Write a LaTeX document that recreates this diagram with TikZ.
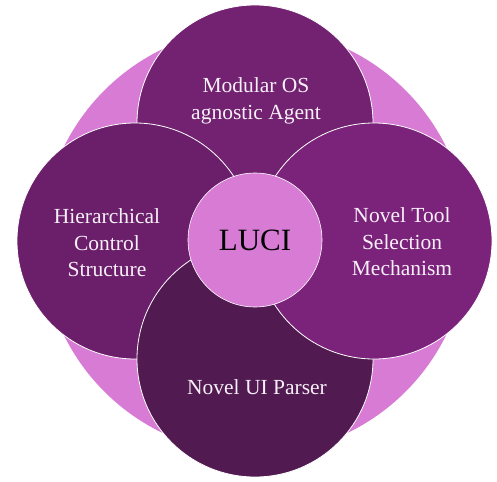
\documentclass[tikz,border=0pt]{standalone}
\usepackage{fontspec}
\setmainfont{Liberation Serif}
\definecolor{pinkbg}{RGB}{216,123,213}
\definecolor{ctop}{RGB}{114,34,112}
\definecolor{cleft}{RGB}{107,31,107}
\definecolor{cright}{RGB}{123,35,123}
\definecolor{cbot}{RGB}{81,26,81}
\definecolor{txt}{RGB}{248,240,248}
\begin{document}
\begin{tikzpicture}[x=1pt,y=-1pt,
  petal/.style={circle,inner sep=0pt,minimum size=236pt,draw=white,line width=0.8pt},
  lbl/.style={align=center,text=txt,font=\fontsize{21.5}{26.5}\selectfont,inner sep=0pt}]
\useasboundingbox (0,0) rectangle (497,481);
\node[circle,inner sep=0pt,minimum size=426pt,fill=pinkbg] (bg) at (255,241) {};
\node[petal,fill=ctop] (top) at (255,123) {};
\node[petal,fill=cleft] (left) at (135,241) {};
\node[petal,fill=cbot] (bot) at (255,359) {};
\node[petal,fill=cright] (right) at (374,241) {};
\node[circle,inner sep=0pt,minimum size=134pt,fill=pinkbg,draw=white,line width=0.6pt] (luci) at (255,240) {};
\node[lbl] (ttop) at (256,101) {Modular OS\\agnostic Agent};
\node[lbl] (tleft) at (107,243) {Hierarchical\\Control\\Structure};
\node[lbl] (tright) at (402,242) {Novel Tool\\Selection\\Mechanism};
\node[lbl] (tbot) at (257,387) {Novel UI Parser};
\node[inner sep=0pt,font=\fontsize{31}{36}\selectfont] (tluci) at (255,240) {LUCI};
\end{tikzpicture}
\end{document}
